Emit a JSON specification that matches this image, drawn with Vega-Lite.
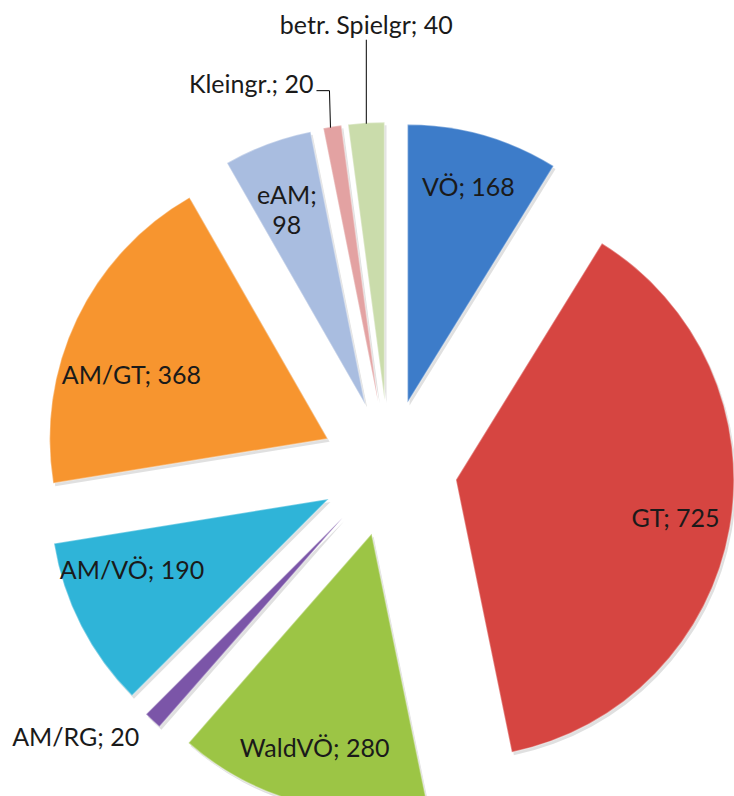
{
  "$schema": "https://vega.github.io/schema/vega-lite/v6.json",
  "width": 734,
  "height": 796,
  "padding": 0,
  "autosize": {"type": "none"},
  "background": "white",
  "config": {"view": {"stroke": null}},
  "data": {
    "values": [
      {"i": 1, "k": "VÖ", "v": 168},
      {"i": 2, "k": "GT", "v": 725},
      {"i": 3, "k": "WaldVÖ", "v": 280},
      {"i": 4, "k": "AM/RG", "v": 20},
      {"i": 5, "k": "AM/VÖ", "v": 190},
      {"i": 6, "k": "AM/GT", "v": 368},
      {"i": 7, "k": "eAM", "v": 98},
      {"i": 8, "k": "Kleingr.", "v": 20},
      {"i": 9, "k": "betr. Spielgr", "v": 40}
    ]
  },
  "transform": [
    {"window": [{"op": "sum", "field": "v", "as": "cum"}], "sort": [{"field": "i"}], "frame": [null, 0]},
    {"joinaggregate": [{"op": "sum", "field": "v", "as": "tot"}]},
    {"calculate": "2*PI*(datum.cum - datum.v)/datum.tot", "as": "a0"},
    {"calculate": "2*PI*datum.cum/datum.tot", "as": "a1"},
    {"calculate": "(datum.a0 + datum.a1)/2", "as": "am"},
    {"calculate": "68*sin(datum.am)", "as": "cx"},
    {"calculate": "68*cos(datum.am)", "as": "cy"},
    {"calculate": "datum.cx + 223*sin(datum.am)", "as": "lx"},
    {"calculate": "datum.cy + 223*cos(datum.am)", "as": "ly"},
    {"calculate": "datum.cx + 277*sin(datum.am)", "as": "ox"},
    {"calculate": "datum.cy + 277*cos(datum.am)", "as": "oy"},
    {"calculate": "datum.k == 'eAM' ? [datum.k + ';', '' + datum.v] : datum.k + '; ' + datum.v", "as": "lab"}
  ],
  "encoding": {
    "x": {"field": "cx", "type": "quantitative", "scale": {"domain": [-389, 345], "nice": false, "zero": false}, "axis": null},
    "y": {"field": "cy", "type": "quantitative", "scale": {"domain": [-328, 468], "nice": false, "zero": false}, "axis": null}
  },
  "layer": [
    {
      "mark": {"type": "arc", "radius": 278, "color": "#000000", "opacity": 0.12, "xOffset": 2, "yOffset": 3},
      "encoding": {
        "theta": {"field": "a0", "type": "quantitative", "scale": null},
        "theta2": {"field": "a1"}
      }
    },
    {
      "mark": {"type": "arc", "radius": 278, "stroke": "#ffffff", "strokeOpacity": 0.35, "strokeWidth": 1.5},
      "encoding": {
        "theta": {"field": "a0", "type": "quantitative", "scale": null},
        "theta2": {"field": "a1"},
        "color": {
          "field": "k",
          "type": "nominal",
          "scale": {
            "domain": ["VÖ", "GT", "WaldVÖ", "AM/RG", "AM/VÖ", "AM/GT", "eAM", "Kleingr.", "betr. Spielgr"],
            "range": ["#3d7cc9", "#d64541", "#9cc545", "#7b55a8", "#2fb4d8", "#f7952f", "#a9bde0", "#e3a2a2", "#cadcab"]
          },
          "legend": null
        }
      }
    },
    {
      "transform": [{"filter": "datum.v >= 90 && datum.k != 'AM/GT' && datum.k != 'AM/VÖ'"}],
      "mark": {"type": "text", "font": "Lato", "fontSize": 25, "color": "#1a1a1a", "baseline": "middle", "align": "center", "lineHeight": 30},
      "encoding": {
        "x": {"field": "lx", "type": "quantitative"},
        "y": {"field": "ly", "type": "quantitative"},
        "text": {"field": "lab"}
      }
    },
    {
      "transform": [{"filter": "datum.k == 'AM/GT'"}],
      "mark": {"type": "text", "font": "Lato", "fontSize": 25, "color": "#1a1a1a", "baseline": "middle", "align": "center", "dx": 5, "dy": 33},
      "encoding": {
        "x": {"field": "lx", "type": "quantitative"},
        "y": {"field": "ly", "type": "quantitative"},
        "text": {"field": "lab"}
      }
    },
    {
      "transform": [{"filter": "datum.k == 'AM/VÖ'"}],
      "mark": {"type": "text", "font": "Lato", "fontSize": 25, "color": "#1a1a1a", "baseline": "middle", "align": "center", "dx": 2, "dy": -30},
      "encoding": {
        "x": {"field": "lx", "type": "quantitative"},
        "y": {"field": "ly", "type": "quantitative"},
        "text": {"field": "lab"}
      }
    },
    {
      "transform": [{"filter": "datum.k == 'betr. Spielgr'"}],
      "mark": {"type": "text", "font": "Lato", "fontSize": 25, "color": "#1a1a1a", "baseline": "middle", "align": "center", "dy": -98},
      "encoding": {
        "x": {"field": "ox", "type": "quantitative"},
        "y": {"field": "oy", "type": "quantitative"},
        "text": {"field": "lab"}
      }
    },
    {
      "transform": [{"filter": "datum.k == 'Kleingr.'"}],
      "mark": {"type": "text", "font": "Lato", "fontSize": 25, "color": "#1a1a1a", "baseline": "middle", "align": "right", "dx": -19, "dy": -43},
      "encoding": {
        "x": {"field": "ox", "type": "quantitative"},
        "y": {"field": "oy", "type": "quantitative"},
        "text": {"field": "lab"}
      }
    },
    {
      "transform": [{"filter": "datum.k == 'AM/RG'"}],
      "mark": {"type": "text", "font": "Lato", "fontSize": 25, "color": "#1a1a1a", "baseline": "middle", "align": "right", "dx": -14, "dy": 18},
      "encoding": {
        "x": {"field": "ox", "type": "quantitative"},
        "y": {"field": "oy", "type": "quantitative"},
        "text": {"field": "lab"}
      }
    },
    {
      "transform": [{"filter": "datum.k == 'betr. Spielgr'"}],
      "mark": {"type": "rule", "color": "#000000", "strokeWidth": 1, "y2Offset": -84},
      "encoding": {
        "x": {"field": "ox", "type": "quantitative"},
        "y": {"field": "oy", "type": "quantitative"},
        "y2": {"field": "oy"}
      }
    },
    {
      "transform": [{"filter": "datum.k == 'Kleingr.'"}],
      "mark": {"type": "rule", "color": "#000000", "strokeWidth": 1, "xOffset": -2, "x2Offset": -3, "y2Offset": -37},
      "encoding": {
        "x": {"field": "ox", "type": "quantitative"},
        "y": {"field": "oy", "type": "quantitative"},
        "x2": {"field": "ox"},
        "y2": {"field": "oy"}
      }
    },
    {
      "transform": [{"filter": "datum.k == 'Kleingr.'"}],
      "mark": {"type": "rule", "color": "#000000", "strokeWidth": 1, "xOffset": -3, "x2Offset": -16, "yOffset": -37, "y2Offset": -37},
      "encoding": {
        "x": {"field": "ox", "type": "quantitative"},
        "y": {"field": "oy", "type": "quantitative"},
        "x2": {"field": "ox"},
        "y2": {"field": "oy"}
      }
    }
  ]
}
